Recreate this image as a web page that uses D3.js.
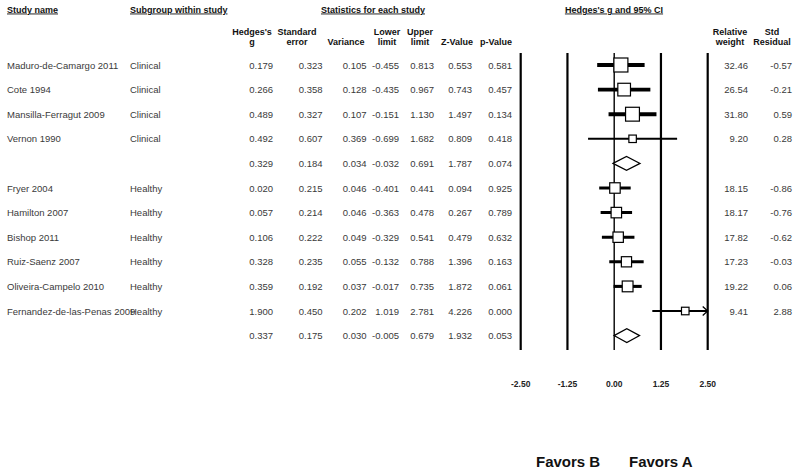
<!DOCTYPE html>
<html>
<head>
<meta charset="utf-8">
<script src="https://cdn.jsdelivr.net/npm/d3@7"></script>
<style>
  body { margin: 0; background: #fff; }
  text { font-family: Arial, "Liberation Sans", sans-serif; }
</style>
</head>
<body>
<script>
const studies = ["Maduro-de-Camargo 2011", "Cote 1994", "Mansilla-Ferragut 2009", "Vernon 1990", "",
  "Fryer 2004", "Hamilton 2007", "Bishop 2011", "Ruiz-Saenz 2007", "Oliveira-Campelo 2010",
  "Fernandez-de-las-Penas 2009", ""];
const subgroups = ["Clinical", "Clinical", "Clinical", "Clinical", "",
  "Healthy", "Healthy", "Healthy", "Healthy", "Healthy", "Healthy", ""];
const hedgesG = [0.179, 0.266, 0.489, 0.492, 0.329, 0.020, 0.057, 0.106, 0.328, 0.359, 1.900, 0.337];
const stdErr = [0.323, 0.358, 0.327, 0.607, 0.184, 0.215, 0.214, 0.222, 0.235, 0.192, 0.450, 0.175];
const variance = [0.105, 0.128, 0.107, 0.369, 0.034, 0.046, 0.046, 0.049, 0.055, 0.037, 0.202, 0.030];
const lower = [-0.455, -0.435, -0.151, -0.699, -0.032, -0.401, -0.363, -0.329, -0.132, -0.017, 1.019, -0.005];
const upper = [0.813, 0.967, 1.130, 1.682, 0.691, 0.441, 0.478, 0.541, 0.788, 0.735, 2.781, 0.679];
const zValue = [0.553, 0.743, 1.497, 0.809, 1.787, 0.094, 0.267, 0.479, 1.396, 1.872, 4.226, 1.932];
const pValue = [0.581, 0.457, 0.134, 0.418, 0.074, 0.925, 0.789, 0.632, 0.163, 0.061, 0.000, 0.053];
const relWeight = [32.46, 26.54, 31.80, 9.20, null, 18.15, 18.17, 17.82, 17.23, 19.22, 9.41, null];
const stdResid = [-0.57, -0.21, 0.59, 0.28, null, -0.86, -0.76, -0.62, -0.03, 0.06, 2.88, null];
const isSummary = [false, false, false, false, true, false, false, false, false, false, false, true];
const ticks = [-2.50, -1.25, 0.00, 1.25, 2.50];

const WIDTH = 800;
const HEIGHT = 476;
const ROW0 = 65;
const ROWSTEP = 24.6;
const TEXTCOL = '#3a3a3a';

let rows = studies.map((s, i) => ({
  name: s, sub: subgroups[i], g: hedgesG[i], se: stdErr[i], v: variance[i],
  lo: lower[i], hi: upper[i], z: zValue[i], p: pValue[i],
  w: relWeight[i], r: stdResid[i], summary: isSummary[i], i: i
}));

// plain hyphen for negatives, like the original output
const locale = d3.formatLocale({ decimal: '.', thousands: ',', grouping: [3], currency: ['', ''], minus: '-' });
const f3 = locale.format('.3f');
const f2 = locale.format('.2f');

let svg = d3.select('body').append('svg')
  .attr('width', WIDTH)
  .attr('height', HEIGHT);

let yPos = (i) => ROW0 + i * ROWSTEP;

let xScale = d3.scaleLinear().domain([-2.5, 2.5]).range([520.7, 707.7]);
let boxScale = d3.scaleSqrt().domain([0, d3.max(relWeight)]).range([0, 14]);
let lineScale = d3.scaleSqrt().domain([0, d3.max(relWeight)]).range([0, 4]);

// top headers
function header(txt, x, y, anchor, underline) {
  svg.append('text')
    .text(txt)
    .attr('x', x).attr('y', y)
    .attr('font-size', '9px')
    .attr('font-weight', 'bold')
    .attr('fill', '#111')
    .style('text-anchor', anchor)
    .style('text-decoration', underline ? 'underline' : 'none');
}
header('Study name', 7, 12.5, 'start', true);
header('Subgroup within study', 130, 12.5, 'start', true);
header('Statistics for each study', 373, 12.5, 'middle', true);
header('Hedges\'s g and 95% CI', 614, 12.5, 'middle', true);

const colHeaders = [
  { l1: "Hedges's", l2: "g", x: 252 },
  { l1: "Standard", l2: "error", x: 297 },
  { l1: "", l2: "Variance", x: 346 },
  { l1: "Lower", l2: "limit", x: 387 },
  { l1: "Upper", l2: "limit", x: 420 },
  { l1: "", l2: "Z-Value", x: 457 },
  { l1: "", l2: "p-Value", x: 496 },
  { l1: "Relative", l2: "weight", x: 730 },
  { l1: "Std", l2: "Residual", x: 772 }
];
colHeaders.forEach(c => {
  header(c.l1, c.x, 35, 'middle', false);
  header(c.l2, c.x, 45, 'middle', false);
});

// table columns
const columns = [
  { key: 'g', x: 273, fmt: f3 },
  { key: 'se', x: 322.5, fmt: f3 },
  { key: 'v', x: 366.5, fmt: f3 },
  { key: 'lo', x: 399, fmt: f3 },
  { key: 'hi', x: 434, fmt: f3 },
  { key: 'z', x: 472, fmt: f3 },
  { key: 'p', x: 512, fmt: f3 },
  { key: 'w', x: 748, fmt: f2 },
  { key: 'r', x: 792, fmt: f2 }
];

let rowG = svg.selectAll('g.row')
  .data(rows)
  .enter()
  .append('g')
  .attr('class', 'row')
  .attr('transform', d => 'translate(0,' + (yPos(d.i) + 3.5) + ')');

rowG.append('text')
  .text(d => d.name)
  .attr('x', 7)
  .attr('font-size', '9.5px')
  .attr('fill', TEXTCOL);

rowG.append('text')
  .text(d => d.sub)
  .attr('x', 130)
  .attr('font-size', '9.5px')
  .attr('fill', TEXTCOL);

columns.forEach(c => {
  rowG.filter(d => d[c.key] !== null)
    .append('text')
    .text(d => c.fmt(d[c.key]))
    .attr('x', c.x)
    .attr('font-size', '9.5px')
    .attr('fill', TEXTCOL)
    .style('text-anchor', 'end');
});

// forest plot vertical lines
svg.selectAll('line.grid')
  .data(ticks)
  .enter()
  .append('line')
  .attr('class', 'grid')
  .attr('x1', d => xScale(d)).attr('x2', d => xScale(d))
  .attr('y1', 53).attr('y2', 350)
  .attr('stroke', '#000')
  .attr('stroke-width', d => d === 0 ? 1.4 : 2.2);

svg.selectAll('text.tick')
  .data(ticks)
  .enter()
  .append('text')
  .attr('class', 'tick')
  .text(d => f2(d))
  .attr('x', d => xScale(d))
  .attr('y', 387)
  .attr('font-size', '8.5px')
  .attr('font-weight', 'bold')
  .attr('fill', '#222')
  .style('text-anchor', 'middle');

// study CIs and boxes
let studyRows = rows.filter(d => !d.summary);
let clip = (v) => Math.max(-2.5, Math.min(2.5, v));

svg.selectAll('line.ci')
  .data(studyRows)
  .enter()
  .append('line')
  .attr('class', 'ci')
  .attr('x1', d => xScale(clip(d.lo)))
  .attr('x2', d => xScale(clip(d.hi)))
  .attr('y1', d => yPos(d.i)).attr('y2', d => yPos(d.i))
  .attr('stroke', '#000')
  .attr('stroke-width', d => lineScale(d.w));

svg.selectAll('path.arrow')
  .data(studyRows.filter(d => d.hi > 2.5))
  .enter()
  .append('path')
  .attr('class', 'arrow')
  .attr('d', d => {
    let x = xScale(2.5), y = yPos(d.i);
    return 'M' + (x - 5) + ',' + (y - 4.5) + 'L' + x + ',' + y + 'L' + (x - 5) + ',' + (y + 4.5);
  })
  .attr('fill', 'none')
  .attr('stroke', '#000')
  .attr('stroke-width', 1.3);

svg.selectAll('rect.box')
  .data(studyRows)
  .enter()
  .append('rect')
  .attr('class', 'box')
  .attr('x', d => xScale(d.g) - boxScale(d.w) / 2)
  .attr('y', d => yPos(d.i) - boxScale(d.w) / 2)
  .attr('width', d => boxScale(d.w))
  .attr('height', d => boxScale(d.w))
  .attr('fill', '#fff')
  .attr('stroke', '#000')
  .attr('stroke-width', 1.2);

// summary diamonds
svg.selectAll('path.diamond')
  .data(rows.filter(d => d.summary))
  .enter()
  .append('path')
  .attr('class', 'diamond')
  .attr('d', d => {
    let y = yPos(d.i);
    return 'M' + xScale(d.lo) + ',' + y +
      'L' + xScale(d.g) + ',' + (y - 7) +
      'L' + xScale(d.hi) + ',' + y +
      'L' + xScale(d.g) + ',' + (y + 7) + 'Z';
  })
  .attr('fill', '#fff')
  .attr('stroke', '#000')
  .attr('stroke-width', 1.2);

// favors labels
svg.append('text')
  .text('Favors B')
  .attr('x', 536).attr('y', 467)
  .attr('font-size', '15px')
  .attr('font-weight', 'bold')
  .attr('fill', '#111');

svg.append('text')
  .text('Favors A')
  .attr('x', 629).attr('y', 467)
  .attr('font-size', '15px')
  .attr('font-weight', 'bold')
  .attr('fill', '#111');
</script>
</body>
</html>
